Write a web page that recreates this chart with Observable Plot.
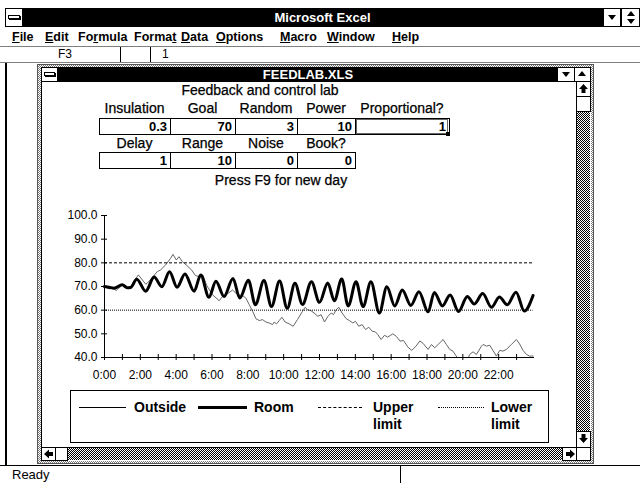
<!DOCTYPE html>
<html>
<head>
<meta charset="utf-8">
<script src="https://cdn.jsdelivr.net/npm/d3@7"></script>
<script src="https://cdn.jsdelivr.net/npm/@observablehq/plot@0.6"></script>
<style>
html,body{margin:0;padding:0;background:#fff;}
#page{position:relative;width:640px;height:483px;overflow:hidden;font-family:"Liberation Sans",Arial,Helvetica,sans-serif;color:#000;}
.a{position:absolute;box-sizing:border-box;}
.dk{background:repeating-conic-gradient(#000 0% 25%, #fff 0% 50%) 0 0/2px 2px;}
.lt{background:repeating-conic-gradient(#7a7a7a 0% 25%, #fff 0% 50%) 0 0/2px 2px;}
.t{white-space:nowrap;}
.cell{-webkit-text-stroke:0.25px #000;}
</style>
</head>
<body>
<div id="page"></div>
<script>
// ---------------- data ----------------
const menuItems = ["File","Edit","Formula","Format","Data","Options","Macro","Window","Help"];
const menuKeys  = [0, 0, 2, 5, 0, 0, 0, 0, 0];
const menuX     = [12, 45, 78, 134, 181, 216, 280, 327, 392];

const sheetTitle = "Feedback and control lab";
const row1Labels = ["Insulation","Goal","Random","Power","Proportional?"];
const row1Values = ["0.3","70","3","10","1"];
const row2Labels = ["Delay","Range","Noise","Book?"];
const row2Values = ["1","10","0","0"];
const pressText = "Press F9 for new day";

const xTicks = [0,1,2,3,4,5,6,7,8,9,10,11,12,13,14,15,16,17,18,19,20,21,22,23];
const xLabelHours = [0,2,4,6,8,10,12,14,16,18,20,22];
const xTickLabels = ["0:00","2:00","4:00","6:00","8:00","10:00","12:00","14:00","16:00","18:00","20:00","22:00"];
const yTicks = [40,50,60,70,80,90,100];

const upperLimit = 80;
const lowerLimit = 60;

const roomHours = [0,0.25,0.53,0.99,1.27,1.46,1.80,2.30,2.77,3.20,3.63,4.05,4.49,5.00,5.37,5.83,6.22,6.67,7.17,7.55,8.03,8.42,8.90,9.32,9.77,10.20,10.63,11.05,11.55,12.00,12.46,12.83,13.24,13.60,14.04,14.43,14.87,15.34,15.76,16.20,16.62,17.10,17.55,18.06,18.41,18.86,19.29,19.76,20.25,20.64,21.11,21.60,22.04,22.48,22.97,23.43,23.92];
const roomValues = [70.0,69.7,69.3,70.7,69.5,69.6,73.1,68.0,74.0,69.9,76.2,69.7,75.3,68.0,74.9,65.5,72.2,65.8,73.4,65.1,72.6,62.3,72.5,61.5,72.3,60.8,71.4,62.4,72.0,63.3,71.5,64.0,73.2,61.8,72.0,61.5,72.0,58.8,69.9,61.8,68.5,62.0,67.8,59.3,67.5,61.8,66.4,59.4,65.8,62.6,67.0,61.2,65.6,62.3,67.6,59.6,66.2];

const outsideHours = [0,0.25,0.50,0.65,0.75,0.99,1.27,1.46,1.89,2.30,2.39,2.95,3.13,3.41,3.69,3.82,4.01,4.16,4.34,4.56,4.86,5.08,5.27,5.49,5.70,6.03,6.40,6.59,6.78,7.15,7.43,7.70,7.89,8.08,8.27,8.45,8.64,8.82,9.01,9.19,9.38,9.47,9.60,9.75,9.90,10.08,10.31,10.53,10.77,11.05,11.20,11.33,11.52,11.70,11.91,12.09,12.28,12.47,12.65,12.78,12.93,13.08,13.26,13.49,13.67,13.86,14.01,14.19,14.38,14.57,14.75,14.94,15.12,15.25,15.44,15.63,15.81,16.09,16.28,16.50,16.69,16.93,17.15,17.39,17.60,17.78,18.06,18.25,18.43,18.62,18.90,19.08,19.27,19.45,19.73,20.00,20.29,20.38,20.57,20.76,21.04,21.13,21.32,21.50,21.68,21.87,22.06,22.24,22.43,22.71,22.99,23.17,23.36,23.55,23.73,23.92];
const outsideValues = [70.0,69.0,69.3,68.3,69.0,70.5,69.6,70.0,74.9,71.0,71.4,76.3,77.0,79.1,81.9,83.6,81.2,82.6,80.5,79.1,77.0,74.6,74.2,74.9,70.5,66.5,64.0,65.8,66.5,68.5,66.5,66.2,65.1,62.3,59.5,56.4,55.6,56.0,55.0,54.6,53.9,55.0,54.2,55.6,57.0,55.0,54.2,53.2,56.0,59.5,61.2,60.2,59.8,58.8,57.4,58.1,55.0,57.4,58.8,58.1,60.2,61.2,58.8,56.4,55.6,54.6,55.3,53.2,53.9,51.8,52.8,51.1,50.8,49.7,47.6,49.4,48.6,50.0,49.0,46.9,47.2,44.4,43.0,44.8,47.0,46.0,43.4,45.5,44.1,45.5,47.6,45.5,43.4,42.7,39.5,38.5,39.5,41.3,42.4,41.3,44.8,45.5,44.8,45.2,43.0,40.6,43.0,42.7,43.4,45.5,47.6,45.7,43.0,41.3,40.6,40.6];

const legendNames = ["Outside","Room","Upper limit","Lower limit"];

// ---------------- helpers ----------------
const page = document.getElementById("page");
function box(l, t, w, h, css = "", cls = "") {
  const d = document.createElement("div");
  d.className = "a " + cls;
  d.style.cssText = `left:${l}px;top:${t}px;width:${w}px;height:${h}px;` + css;
  page.appendChild(d);
  return d;
}
function text(l, t, w, h, str, css = "", cls = "") {
  const d = box(l, t, w, h, `line-height:${h}px;` + css, "t " + cls);
  d.textContent = str;
  return d;
}
function glyph(l, t, w, h, pts) {
  const ns = "http://www.w3.org/2000/svg";
  const s = document.createElementNS(ns, "svg");
  s.setAttribute("width", w); s.setAttribute("height", h);
  s.style.cssText = `position:absolute;left:${l}px;top:${t}px;`;
  const p = document.createElementNS(ns, "polygon");
  p.setAttribute("points", pts); p.setAttribute("fill", "#000");
  s.appendChild(p); page.appendChild(s);
}

// ---------------- application window ----------------
box(5, 8, 635, 19, "background:#000;");
text(5, 8, 635, 19, "Microsoft Excel", "color:#fff;font-weight:bold;font-size:13px;text-align:center;");
box(5, 8, 18, 19, "background:#fff;border:1px solid #000;");
box(8, 15, 12, 4, "background:#fff;border:1px solid #000;box-shadow:1px 1px 0 #000;");
box(603, 8, 18, 19, "background:#fff;border:1px solid #000;");
glyph(607, 13, 10, 8, "1,2 9,2 5,7");
box(621, 8, 19, 19, "background:#fff;border:1px solid #000;");
glyph(626, 10, 10, 16, "5,1 9,6 1,6");
glyph(626, 10, 10, 16, "1,9 9,9 5,14");

// menu bar
box(0, 46, 640, 1, "background:#808080;");
menuItems.forEach((m, i) => {
  const d = text(menuX[i], 28, 80, 18, "", "font-weight:bold;font-size:12.5px;");
  const k = menuKeys[i];
  d.innerHTML = m.slice(0, k) + "<u>" + m[k] + "</u>" + m.slice(k + 1);
});

// formula bar
box(0, 62, 640, 1, "background:#808080;");
text(40, 47, 50, 15, "F3", "font-size:12px;text-align:center;");
box(120, 47, 1, 15, "background:#000;");
box(150, 47, 1, 15, "background:#000;");
text(162, 47, 20, 15, "1", "font-size:12px;");

// left workspace border
box(5, 63, 2, 402, "background:#000;");

// status bar
box(0, 465, 640, 1, "background:#000;");
text(12, 466, 80, 17, "Ready", "font-size:13px;");
box(400, 466, 1, 17, "background:#000;");

// ---------------- document window ----------------
box(37, 64, 557, 400, "border:1px solid #555;", "lt");
box(41, 67, 550, 394, "background:#fff;border:1px solid #000;");
box(41, 67, 550, 15, "background:#000;");
text(58, 67, 500, 15, "FEEDLAB.XLS", "color:#fff;font-weight:bold;font-size:13px;text-align:center;");
box(41, 67, 17, 15, "background:#fff;border:1px solid #000;");
box(44, 72, 11, 4, "background:#fff;border:1px solid #000;box-shadow:1px 1px 0 #000;");
box(557, 67, 18, 15, "background:#fff;border:1px solid #000;");
glyph(561, 70, 10, 8, "1,2 9,2 5,7");
box(574, 67, 17, 15, "background:#fff;border:1px solid #000;");
glyph(577, 70, 10, 8, "1,6 9,6 5,1");

// vertical scrollbar
box(576, 81, 15, 368, "background:#fff;border-left:1px solid #000;");
box(576, 81, 15, 16, "border:1px solid #000;background:#fff;");
glyph(578, 83, 11, 12, "5.5,1 10,6 7.5,6 7.5,10 3.5,10 3.5,6 1,6");
box(576, 96, 15, 16, "border:1px solid #000;background:#fff;");
box(577, 112, 13, 320, "", "dk");
box(576, 431, 15, 17, "border:1px solid #000;background:#fff;");
glyph(578, 433, 11, 12, "3.5,1 7.5,1 7.5,5 10,5 5.5,10 1,5 3.5,5");

// horizontal scrollbar
box(41, 447, 536, 14, "background:#fff;border-top:1px solid #000;");
box(41, 447, 15, 14, "border:1px solid #000;background:#fff;");
glyph(43, 448, 12, 12, "1,6 6,1.5 6,4 10,4 10,8 6,8 6,10.5");
box(55, 447, 13, 14, "border:1px solid #000;background:#fff;");
box(68, 448, 494, 12, "", "dk");
box(562, 447, 15, 14, "border:1px solid #000;background:#fff;");
glyph(564, 448, 12, 12, "11,6 6,1.5 6,4 2,4 2,8 6,8 6,10.5");
box(576, 447, 15, 14, "border:1px solid #000;background:#fff;");

// ---------------- sheet cells ----------------
text(160, 82, 200, 16, sheetTitle, "font-size:14px;text-align:center;", "cell");
const edges1 = [99, 170, 235, 297, 355, 449];
row1Labels.forEach((s, i) => {
  const c = (edges1[i] + edges1[i + 1]) / 2;
  text(c - 60, 100, 120, 16, s, "font-size:14px;text-align:center;", "cell");
  box(edges1[i], 118, edges1[i + 1] - edges1[i] + 1, 17, "border:1px solid #000;");
  text(edges1[i], 118, edges1[i + 1] - edges1[i] - 3, 17, row1Values[i], "font-size:13px;font-weight:bold;text-align:right;");
});
box(356, 119, 92, 15, "border:1px solid #666;");
box(446, 132, 4, 4, "background:#000;");
const edges2 = [99, 170, 235, 297, 355];
row2Labels.forEach((s, i) => {
  const c = (edges2[i] + edges2[i + 1]) / 2;
  text(c - 60, 135, 120, 16, s, "font-size:14px;text-align:center;", "cell");
  box(edges2[i], 152, edges2[i + 1] - edges2[i] + 1, 17, "border:1px solid #000;");
  text(edges2[i], 152, edges2[i + 1] - edges2[i] - 3, 17, row2Values[i], "font-size:13px;font-weight:bold;text-align:right;");
});
text(181, 172, 200, 16, pressText, "font-size:14px;text-align:center;", "cell");

// ---------------- chart ----------------
const room = roomHours.map((h, i) => ({h, v: roomValues[i]}));
const outside = outsideHours.map((h, i) => ({h, v: outsideValues[i]}));
const t0 = outsideHours[0], t1 = outsideHours[outsideHours.length - 1];

const chart = Plot.plot({
  width: 534,
  height: 190,
  marginLeft: 62,
  marginRight: 42,
  marginTop: 20,
  marginBottom: 28,
  x: {domain: [0, 24], axis: null},
  y: {domain: [40, 100], axis: null},
  style: {fontFamily: "'Liberation Sans', Arial, sans-serif", fontSize: "12px", color: "#000", background: "transparent", overflow: "visible"},
  marks: [
    Plot.line(outside, {x: "h", y: "v", stroke: "#666", strokeWidth: 1, clip: true, strokeLinejoin: "miter"}),
    Plot.line(room, {x: "h", y: "v", stroke: "#000", strokeWidth: 3, curve: "monotone-x"}),
    Plot.ruleY([upperLimit], {x1: t0, x2: t1, stroke: "#000", strokeWidth: 1, strokeDasharray: "3,2"}),
    Plot.ruleY([lowerLimit], {x1: t0, x2: t1, stroke: "#000", strokeWidth: 1, strokeDasharray: "1,1"}),
    Plot.ruleX([0], {stroke: "#000"}),
    Plot.ruleY([40], {stroke: "#000"}),
    Plot.axisY(yTicks, {anchor: "left", tickSize: 6, dx: 3, tickFormat: () => "", label: null}),
    Plot.axisY(yTicks, {anchor: "left", tickSize: 0, tickPadding: 7, tickFormat: d => d.toFixed(1), label: null}),
    Plot.axisX(xTicks, {anchor: "bottom", tickSize: 6, dy: -3, tickFormat: () => "", label: null}),
    Plot.axisX(xLabelHours, {anchor: "bottom", tickSize: 0, tickPadding: 13, tickFormat: d => xTickLabels[xLabelHours.indexOf(d)], label: null})
  ]
});
chart.style.position = "absolute";
chart.style.left = "42px";
chart.style.top = "195px";
page.appendChild(chart);

// ---------------- legend ----------------
box(70, 390, 479, 53, "border:1px solid #000;");
box(79, 407, 47, 1, "background:#000;");
text(134, 399, 60, 17, legendNames[0], "font-size:14px;font-weight:bold;");
box(198, 406, 49, 3, "background:#000;");
text(254, 399, 60, 17, legendNames[1], "font-size:14px;font-weight:bold;");
box(318, 407, 44, 0, "border-top:1px dashed #000;");
text(373, 399, 60, 17, "Upper", "font-size:14px;font-weight:bold;");
text(373, 416, 60, 17, "limit", "font-size:14px;font-weight:bold;");
box(438, 407, 46, 0, "border-top:1px dotted #000;");
text(491, 399, 60, 17, "Lower", "font-size:14px;font-weight:bold;");
text(491, 416, 60, 17, "limit", "font-size:14px;font-weight:bold;");
</script>
</body>
</html>
